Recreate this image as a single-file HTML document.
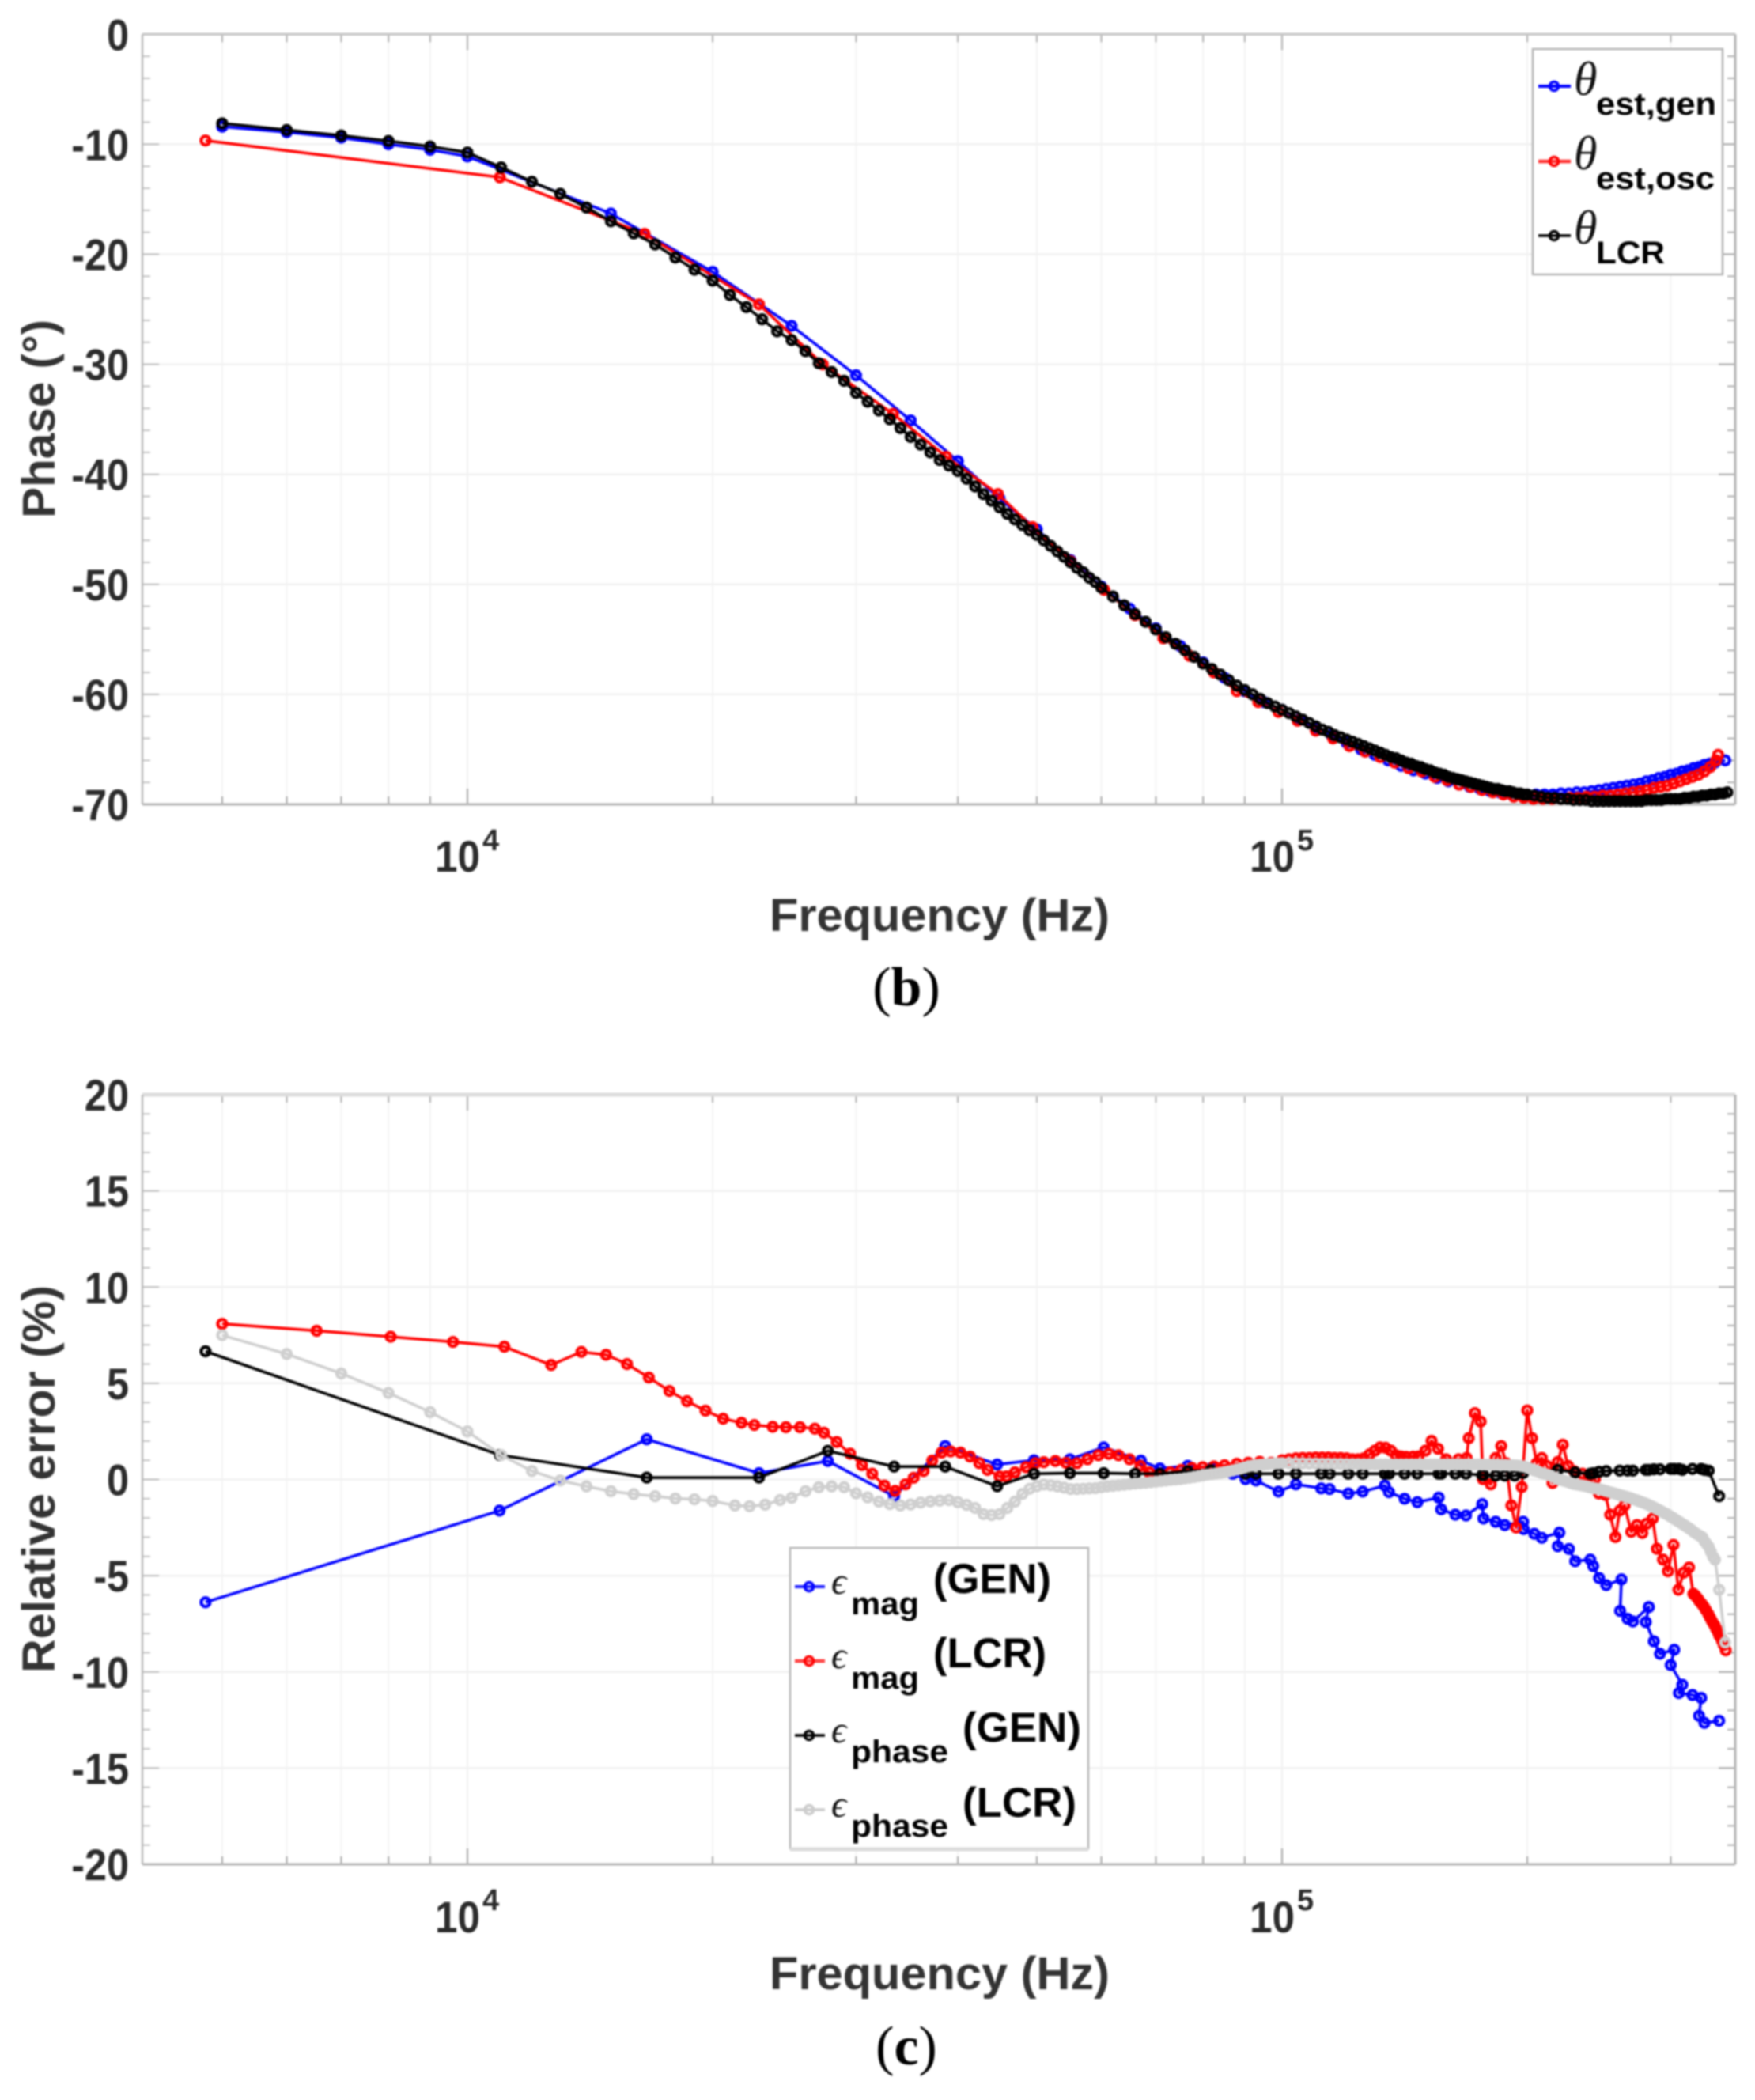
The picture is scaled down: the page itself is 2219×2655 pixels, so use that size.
<!DOCTYPE html>
<html lang="en">
<head>
<meta charset="utf-8">
<title>Phase and relative error versus frequency</title>
<style>
html,body{margin:0;padding:0;background:#fff;}
svg{display:block;filter:blur(1px);}
text{font-family:"Liberation Sans",sans-serif;}
.tick{font-weight:bold;font-size:56px;fill:#2b2b2b;}
.title{font-weight:bold;font-size:58px;fill:#333;}
.sub{font-weight:bold;font-size:40px;fill:#000;}
.paren{font-weight:bold;font-size:53px;fill:#000;}
.sym{font-family:"Liberation Serif","DejaVu Serif",serif;font-style:italic;fill:#111;}
.cap{font-family:"Liberation Serif",serif;font-size:70px;fill:#000;}
</style>
</head>
<body>
<svg id="figure" xmlns="http://www.w3.org/2000/svg" width="2219" height="2655" viewBox="0 0 2219 2655">
  <rect width="2219" height="2655" fill="#fff"/>

  <g id="panel-b">
    <g id="b-frame"></g>
    <g id="b-marks"></g>
    <g>
      <text class="tick" x="550" y="1102" textLength="57" lengthAdjust="spacingAndGlyphs">10</text>
      <text class="tick" x="610" y="1075" style="font-size:38px">4</text>
      <text class="tick" x="1580" y="1102" textLength="57" lengthAdjust="spacingAndGlyphs">10</text>
      <text class="tick" x="1640" y="1075" style="font-size:38px">5</text>
    </g>
    <text class="title" x="973" y="1177" textLength="430" lengthAdjust="spacingAndGlyphs">Frequency (Hz)</text>
    <text class="title" transform="translate(69 655) rotate(-90)" textLength="251" lengthAdjust="spacingAndGlyphs">Phase (°)</text>
    <g>
      <rect x="1938" y="62" width="240" height="285" fill="#fff" stroke="#b5b5b5" stroke-width="2.5"/>
      <g>
        <line x1="1945" x2="1986" y1="109" y2="109" stroke="#00f" stroke-width="4"/>
        <circle cx="1965" cy="109" r="5.5" fill="none" stroke="#00f" stroke-width="3.5"/>
        <text class="sym" x="1990" y="120" style="font-size:60px">θ</text>
        <text class="sub" x="2018" y="145" textLength="152" lengthAdjust="spacingAndGlyphs">est,gen</text>
      </g>
      <g>
        <line x1="1945" x2="1986" y1="204" y2="204" stroke="#f33" stroke-width="4.5"/>
        <circle cx="1965" cy="204" r="5.5" fill="none" stroke="#f00" stroke-width="3.5"/>
        <text class="sym" x="1990" y="214" style="font-size:60px">θ</text>
        <text class="sub" x="2018" y="239" textLength="150" lengthAdjust="spacingAndGlyphs">est,osc</text>
      </g>
      <g>
        <line x1="1945" x2="1986" y1="298" y2="298" stroke="#000" stroke-width="3.5"/>
        <circle cx="1965" cy="298" r="5.5" fill="none" stroke="#000" stroke-width="3.5"/>
        <text class="sym" x="1990" y="308" style="font-size:60px">θ</text>
        <text class="sub" x="2018" y="333" textLength="87" lengthAdjust="spacingAndGlyphs">LCR</text>
      </g>
    </g>
    <text class="cap" x="1146" y="1271" text-anchor="middle">(<tspan font-weight="bold">b</tspan>)</text>
  </g>

  <g id="panel-c">
    <g id="c-frame"></g>
    <g id="c-marks"></g>
    <g>
      <text class="tick" x="550" y="2443" textLength="57" lengthAdjust="spacingAndGlyphs">10</text>
      <text class="tick" x="610" y="2415" style="font-size:38px">4</text>
      <text class="tick" x="1580" y="2443" textLength="57" lengthAdjust="spacingAndGlyphs">10</text>
      <text class="tick" x="1640" y="2415" style="font-size:38px">5</text>
    </g>
    <text class="title" x="973" y="2515" textLength="430" lengthAdjust="spacingAndGlyphs">Frequency (Hz)</text>
    <text class="title" transform="translate(69 2115) rotate(-90)" textLength="490" lengthAdjust="spacingAndGlyphs">Relative error (%)</text>
    <g>
      <rect x="999" y="1957" width="377" height="380" fill="#fff" stroke="#b8b8b8" stroke-width="2.5"/>
      <line x1="999" x2="1376" y1="2338" y2="2338" stroke="#dcdcdc" stroke-width="5"/>
      <g>
        <line x1="1005" x2="1043" y1="2006" y2="2006" stroke="#22f" stroke-width="4"/>
        <circle cx="1023" cy="2006" r="5.5" fill="none" stroke="#00f" stroke-width="3.5"/>
        <text class="sym" x="1051" y="2015" style="font-size:48px">ϵ</text>
        <text class="sub" x="1076" y="2041" textLength="86" lengthAdjust="spacingAndGlyphs">mag</text>
        <text class="paren" x="1180" y="2014" textLength="149" lengthAdjust="spacingAndGlyphs">(GEN)</text>
      </g>
      <g>
        <line x1="1005" x2="1043" y1="2100" y2="2100" stroke="#f44" stroke-width="4.5"/>
        <circle cx="1023" cy="2100" r="5.5" fill="none" stroke="#f00" stroke-width="3.5"/>
        <text class="sym" x="1051" y="2109" style="font-size:48px">ϵ</text>
        <text class="sub" x="1076" y="2135" textLength="86" lengthAdjust="spacingAndGlyphs">mag</text>
        <text class="paren" x="1180" y="2108" textLength="143" lengthAdjust="spacingAndGlyphs">(LCR)</text>
      </g>
      <g>
        <line x1="1005" x2="1043" y1="2194" y2="2194" stroke="#000" stroke-width="3.5"/>
        <circle cx="1023" cy="2194" r="5.5" fill="none" stroke="#000" stroke-width="3.5"/>
        <text class="sym" x="1051" y="2203" style="font-size:48px">ϵ</text>
        <text class="sub" x="1076" y="2228" textLength="123" lengthAdjust="spacingAndGlyphs">phase</text>
        <text class="paren" x="1217" y="2202" textLength="150" lengthAdjust="spacingAndGlyphs">(GEN)</text>
      </g>
      <g>
        <line x1="1005" x2="1043" y1="2288" y2="2288" stroke="#ccc" stroke-width="3.5"/>
        <circle cx="1023" cy="2288" r="5.5" fill="none" stroke="#ccc" stroke-width="3.5"/>
        <text class="sym" x="1051" y="2297" style="font-size:48px">ϵ</text>
        <text class="sub" x="1076" y="2322" textLength="123" lengthAdjust="spacingAndGlyphs">phase</text>
        <text class="paren" x="1217" y="2297" textLength="144" lengthAdjust="spacingAndGlyphs">(LCR)</text>
      </g>
    </g>
    <text class="cap" x="1146" y="2610" text-anchor="middle">(<tspan font-weight="bold">c</tspan>)</text>
  </g>
</svg>

<script>
// ---- Chart (b): phase, frequencies in kHz, values in degrees ----
const bYTickLabels = [0, -10, -20, -30, -40, -50, -60, -70];
const bThetaGenFreq = [5,6,7,8,9,10,15,20,25,30,
  35,40,45,50,55,60,65,70,75,80,
  85,90,95,100,105,110,115,120,125,130,
  135,140,145,150,155,160,165,170,175,180,
  185,190,195,200,205,210,215,220,225,230,
  235,240,245,250,255,260,265,270,275,280,
  285,290,295,300,305,310,315,320,325,330,
  335,340,350];
const bThetaGenVal = [-8.4,-8.9,-9.4,-10,-10.5,-11.1,-16.3,-21.6,-26.5,-31,
  -35.1,-38.8,-42.2,-45,-47.8,-50.2,-52.2,-54,-55.6,-57.1,
  -58.5,-59.7,-60.7,-61.4,-62.3,-63,-63.7,-64.4,-65,-65.5,
  -66,-66.5,-66.9,-67.2,-67.6,-67.9,-68.2,-68.4,-68.6,-68.8,
  -68.9,-69,-69.1,-69.1,-69.1,-69.1,-69.1,-69,-69,-68.9,
  -68.9,-68.8,-68.7,-68.6,-68.5,-68.4,-68.3,-68.2,-68.1,-67.9,
  -67.8,-67.6,-67.5,-67.3,-67.2,-67,-66.9,-66.7,-66.6,-66.4,
  -66.3,-66.2,-66];

const bThetaOscFreq = [4.77,10.96,16.5,22.8,27.3,33.3,38.7,44.8,49.4,55,
  60.5,66,71.5,77,82.5,88,93.5,99,104.5,110,
  115.5,121,126.5,132,137.5,143,148.5,154,159.5,165,
  170.5,176,181.5,187,192.5,198,203.5,209,214.5,220,
  225.5,231,236.5,242,247.5,253,258.5,264,269.5,275,
  280.5,286,291.5,297,302.5,308,313.5,319,324.5,330,
  335.5,341,343];
const bThetaOscVal = [-9.66,-13,-18.15,-24.55,-30,-34.5,-38.4,-41.8,-44.8,-47.9,
  -50.5,-52.8,-54.9,-56.5,-58,-59.7,-60.7,-61.6,-62.4,-63.3,
  -64,-64.7,-65.2,-65.7,-66.2,-66.7,-67,-67.5,-67.8,-68.2,
  -68.4,-68.7,-68.9,-69.1,-69.3,-69.4,-69.5,-69.5,-69.5,-69.5,
  -69.4,-69.4,-69.3,-69.3,-69.2,-69.2,-69.1,-69,-68.9,-68.8,
  -68.7,-68.5,-68.4,-68.3,-68.1,-67.9,-67.7,-67.5,-67.3,-67,
  -66.6,-66,-65.5];

const bThetaLcrFreq = [5,6,7,8,9,10,11,12,13,14,
  15,16,17,18,19,20,21,22,23,24,
  25,26,27,28,29,30,31,32,33,34,
  35,36,37,38,39,40,41,42,43,44,
  45,46,47,48,49,50,51,52,53,54,
  55,56,57,58,59,60,
  62,64,66,68,70,72,74,76,78,80,
  82,84,86,88,90,92,94,96,98,100,
  102,104,106,108,110,112,114,116,118,120,
  122,124,126,128,130,132,134,136,138,140,
  142,144,146,148,150,152,154,156,158,160,
  162,164,166,168,170,172,174,176,178,180,
  182,184,186,188,190,192,194,196,198,200,
  204,208,212,216,220,224,228,232,236,240,
  244,248,252,256,260,264,268,272,276,280,
  284,288,292,296,300,304,308,312,316,320,
  324,328,332,336,340,344,348,352];
const bThetaLcrVal = [-8.1,-8.7,-9.2,-9.7,-10.2,-10.75,-12.1,-13.4,-14.5,-15.75,
  -17,-18.1,-19.1,-20.3,-21.4,-22.4,-23.7,-24.8,-25.9,-27,
  -27.8,-28.8,-29.9,-30.7,-31.5,-32.6,-33.4,-34.2,-35,-35.8,
  -36.6,-37.3,-38,-38.7,-39.2,-39.7,-40.4,-41.1,-41.8,-42.4,
  -43,-43.6,-44.1,-44.6,-45.1,-45.5,-46,-46.5,-47,-47.5,
  -48,-48.5,-48.9,-49.4,-49.8,-50.3,
  -51.1,-51.9,-52.7,-53.4,-54.1,-54.8,-55.4,-56,-56.6,-57.2,
  -57.7,-58.2,-58.7,-59.2,-59.6,-60,-60.4,-60.8,-61.1,-61.4,
  -61.7,-62,-62.3,-62.6,-62.9,-63.2,-63.4,-63.7,-63.9,-64.1,
  -64.3,-64.5,-64.7,-64.9,-65.1,-65.3,-65.5,-65.7,-65.8,-66,
  -66.2,-66.3,-66.5,-66.6,-66.8,-66.9,-67.1,-67.2,-67.3,-67.5,
  -67.6,-67.7,-67.8,-67.9,-68,-68.1,-68.2,-68.3,-68.4,-68.5,
  -68.6,-68.6,-68.7,-68.8,-68.8,-68.9,-69,-69,-69.1,-69.1,
  -69.2,-69.3,-69.4,-69.4,-69.5,-69.5,-69.6,-69.6,-69.6,-69.7,
  -69.7,-69.7,-69.7,-69.7,-69.7,-69.7,-69.7,-69.7,-69.7,-69.6,
  -69.6,-69.6,-69.6,-69.5,-69.5,-69.5,-69.5,-69.4,-69.4,-69.3,
  -69.3,-69.2,-69.2,-69.1,-69.1,-69,-69,-68.9];

// ---- Chart (c): relative error, frequencies in kHz, values in percent ----
const cYTickLabels = [20, 15, 10, 5, 0, -5, -10, -15, -20];
const cMagGenFreq = [4.77,10.95,16.6,22.8,27.7,33.4,38.6,44.7,49.6,54.9,
  60.4,67.1,70.8,76.6,82,87,90.2,92.9,99,104,
  111.7,114.4,120.6,125.6,133.7,135.3,141.4,146.6,155.7,156.8,
  163.2,168.2,176.1,176.7,182.9,187.7,197.7,198,204,208.4,
  219,218,225,229,239,241,245,250,261,260,
  265.5,269.6,282,279.6,286,291,303,300,310,307,
  319,327,325,330,344];
const cMagGenVal = [-6.38,-1.62,2.09,0.33,0.96,-0.87,1.74,0.78,1,1.05,
  1.67,0.98,0.57,0.71,0.6,0.3,0.02,-0.05,-0.63,-0.25,
  -0.46,-0.5,-0.73,-0.63,-0.32,-0.66,-1,-1.18,-0.94,-1.55,
  -1.83,-1.87,-1.28,-2.03,-2.2,-2.37,-2.2,-2.58,-2.82,-3.03,
  -2.76,-3.47,-3.61,-4.25,-4.16,-4.5,-5.12,-5.49,-5.19,-6.83,
  -7.24,-7.38,-6.63,-7.41,-8.41,-9.06,-8.85,-9.64,-10.67,-11.1,
  -11.2,-11.35,-12.28,-12.65,-12.54];

const cMagLcrFreq = [5,6.53,8.05,9.6,11.1,12.67,13.8,14.8,15.7,16.7,
  17.7,18.6,19.6,20.6,21.7,22.5,23.7,24.6,25.6,26.7,
  27.4,28.4,29.5,30.5,31.4,32.5,33.5,34.5,35.3,36.3,
  37.2,38.2,39.2,40.3,41.4,42.5,43.5,45,45.9,47,
  48.5,49.8,51,52.7,54.3,56,57.7,59.5,61.3,63,
  65,67,68.7,70.8,72.9,75.2,77.5,79.9,82.5,85,
  88,90.9,93.9,97,100,102,104,106,108,110,
  112,114,116,118,120,122,124,126,128,130,
  131.9,134,136,138,140,142,144.8,147,150,152.6,
  155.4,159,164.7,168.5,169.5,172.5,175.3,176.4,180.4,182.9,
  185.8,188.4,191.2,193.8,196.9,200,202.7,205.4,208.4,211.4,
  214.8,218,221.1,224.4,228.2,233.8,237.9,242.1,244.9,249.4,
  252.8,256.6,259.7,263.3,268.3,272.7,276.9,280.2,285.1,288.5,
  293.5,297.7,302.3,306.6,311.2,316,319.8,321,322.5,324,
  325,326.5,328,329.9,331.5,333.7,335,336.5,338,339.8,
  341,342.5,344,345.8,347,348.5,350.5];
const cMagLcrVal = [8.09,7.73,7.42,7.15,6.9,5.95,6.63,6.48,6,5.3,
  4.6,4.07,3.58,3.16,2.95,2.83,2.74,2.72,2.72,2.64,
  2.43,1.95,1.34,0.75,0.3,-0.32,-0.59,-0.25,0.09,0.44,
  0.98,1.4,1.46,1.4,1.19,0.85,0.5,0.16,0.16,0.37,
  0.64,0.85,0.9,0.96,0.87,0.85,1.05,1.26,1.33,1.26,
  1.05,0.71,0.37,0.23,0.37,0.5,0.6,0.64,0.68,0.74,
  0.82,0.87,0.92,0.87,1,1.05,1.1,1.12,1.12,1.14,
  1.14,1.14,1.12,1.12,1.1,1.05,1.05,1.1,1.3,1.5,
  1.67,1.65,1.5,1.26,1.2,1.18,1.19,1.2,1.5,2.01,
  1.6,1.05,1.05,1.12,2.15,3.45,3.01,0.02,-0.25,1.12,
  1.74,0.85,-1.35,-2.5,-0.39,3.59,2.15,0.85,1.12,0.71,
  -0.18,0.91,1.81,0.71,0.44,0.3,0.16,0.02,-0.73,-0.8,
  -1.83,-2.99,-1.62,-1.35,-2.72,-2.37,-2.78,-2.3,-2.03,-3.6,
  -4.16,-4.77,-3.4,-5.73,-4.84,-4.57,-5.94,-6,-6.1,-6.2,
  -6.3,-6.4,-6.5,-6.65,-6.8,-7,-7.15,-7.3,-7.45,-7.6,
  -7.75,-7.9,-8.1,-8.25,-8.4,-8.6,-8.88];

const cPhaseGenFreq = [4.77,10.96,16.6,22.8,27.7,33.4,38.6,44.7,49.6,54.9,
  60.4,66,70.8,76.6,81.8,90.2,92.9,99,104,111.7,
  114.4,120.6,125.6,133.7,135.3,141.4,146.6,155.7,156.8,163.2,
  168.2,176.1,176.7,182.9,187.7,193,197.7,218,229,239,
  241,245,250,259.7,265.5,269.6,279.6,282,286,291,
  300,303,307,310,319,327,330,334,344];
const cPhaseGenVal = [6.66,1.27,0.1,0.1,1.49,0.67,0.67,-0.35,0.3,0.33,
  0.33,0.3,0.3,0.43,0.48,0.3,0.3,0.3,0.3,0.3,
  0.3,0.3,0.3,0.3,0.3,0.3,0.3,0.3,0.3,0.3,
  0.3,0.23,0.23,0.2,0.2,0.2,0.34,0.5,0.37,0.3,
  0.33,0.4,0.44,0.46,0.46,0.46,0.5,0.5,0.53,0.53,
  0.55,0.55,0.55,0.5,0.55,0.55,0.5,0.46,-0.87];

const cPhaseLcrFreq = [5,6,7,8,9,10,11,12,13,14,
  15,16,17,18,19,20,21.3,22.2,23.2,24.2,
  25,26,27,28,29,30,31,32,33,34,
  35,36,37,38,39,40,41,42,43,44,
  45,46,47,48,49,50,51,52,53,54,
  55,56,57,58,59,60,61,62,63,64,
  65,66,67,68,69,70,71,72,73,74,
  75,76,77,78,79,80,81,82,83,84,
  85,86,87,88,89,90,91,92,93,94,
  95,96,97,98,99,100,
  102,104,106,108,110,112,114,116,118,120,
  122,124,126,128,130,132,134,136,138,140,
  142,144,146,148,150,152,154,156,158,160,
  162,164,166,168,170,172,174,176,178,180,
  182,184,186,188,190,192,194,196,198,200,
  202,204,206,208,210,212,214,216,218,220,
  222,224,226,228,230,232,234,236,238,240,
  242,244,246,248,250,252,254,256,258,260,
  262,264,266,268,270,272,274,276,278,280,
  282,284,286,288,290,292,294,296,298,300,
  302,304,306,308,310,312,314,316,318,320,
  322,324,326,328,330,332,334,336,338,340,
  344,350];
const cPhaseLcrVal = [7.5,6.52,5.51,4.5,3.5,2.5,1.27,0.44,-0.05,-0.36,
  -0.61,-0.76,-0.87,-0.99,-1.03,-1.12,-1.35,-1.39,-1.31,-1.07,
  -0.95,-0.61,-0.4,-0.36,-0.4,-0.72,-0.93,-1.15,-1.28,-1.35,
  -1.3,-1.2,-1.14,-1.1,-1.07,-1.18,-1.32,-1.48,-1.8,-1.85,
  -1.8,-1.48,-1.15,-0.75,-0.48,-0.35,-0.26,-0.3,-0.36,-0.42,
  -0.5,-0.5,-0.48,-0.46,-0.45,-0.4,-0.36,-0.33,-0.3,-0.27,
  -0.24,-0.21,-0.19,-0.17,-0.14,-0.11,-0.08,-0.05,-0.02,0,
  0.02,0.06,0.09,0.13,0.17,0.21,0.25,0.28,0.31,0.34,
  0.38,0.42,0.47,0.52,0.57,0.63,0.69,0.72,0.75,0.77,
  0.78,0.8,0.82,0.83,0.84,0.85,
  0.85,0.84,0.84,0.83,0.83,0.82,0.82,0.81,0.81,0.8,
  0.8,0.8,0.79,0.79,0.79,0.78,0.78,0.78,0.78,0.78,
  0.78,0.78,0.78,0.78,0.78,0.78,0.78,0.78,0.78,0.78,
  0.78,0.78,0.78,0.78,0.78,0.78,0.78,0.77,0.77,0.77,
  0.76,0.76,0.75,0.75,0.74,0.74,0.73,0.71,0.68,0.62,
  0.55,0.47,0.42,0.35,0.3,0.25,0.18,0.1,0.02,-0.02,
  -0.07,-0.12,-0.18,-0.23,-0.26,-0.29,-0.32,-0.35,-0.39,-0.43,
  -0.46,-0.48,-0.52,-0.56,-0.6,-0.65,-0.69,-0.73,-0.77,-0.81,
  -0.85,-0.89,-0.93,-0.97,-1.03,-1.07,-1.12,-1.17,-1.22,-1.27,
  -1.33,-1.39,-1.45,-1.52,-1.58,-1.65,-1.72,-1.78,-1.85,-1.93,
  -2,-2.08,-2.16,-2.23,-2.31,-2.38,-2.46,-2.54,-2.62,-2.72,
  -2.8,-2.87,-2.94,-3,-3.2,-3.35,-3.5,-3.75,-4,-4.16,
  -5.73,-8.47];

// ---- Axis geometry and functions ----
const SVG_NS = 'http://www.w3.org/2000/svg';
const AXIS_LEFT = 180, AXIS_RIGHT = 2194, PX_1E4 = 591, PX_PER_DECADE = 1030;
function xScale(kHz) {
  return PX_1E4 + (Math.log10(kHz) - 1) * PX_PER_DECADE;
}
function makeYScale(top, bottom, vTop, vBottom) {
  return function (v) { return top + (v - vTop) / (vBottom - vTop) * (bottom - top); };
}
function addLine(parent, x1, y1, x2, y2, color, width) {
  const el = document.createElementNS(SVG_NS, 'line');
  el.setAttribute('x1', x1);
  el.setAttribute('y1', y1);
  el.setAttribute('x2', x2);
  el.setAttribute('y2', y2);
  el.setAttribute('stroke', color);
  el.setAttribute('stroke-width', width);
  
  
  parent.appendChild(el);
  return el;
}
function drawFrame(frameId, top, bottom, yScale, yTicks, minorPerMajor, topColor, topWidth) {
  const frame = document.getElementById(frameId);
  const xMinor = [5,6,7,8,9,20,30,40,50,60,70,80,90,200,300];
  const xMajor = [10,100];
  xMinor.forEach(function (f) {
    const x = xScale(f);
    addLine(frame, x, top, x, bottom, '#f4f4f4', 2);
    addLine(frame, x, top, x, top + 10, '#b0b0b0', 2);
    addLine(frame, x, bottom, x, bottom - 10, '#a8a8a8', 2);
  });
  xMajor.forEach(function (f) {
    const x = xScale(f);
    addLine(frame, x, top, x, bottom, '#f0f0f0', 2);
    addLine(frame, x, top, x, top + 20, '#b0b0b0', 2);
    addLine(frame, x, bottom, x, bottom - 20, '#a8a8a8', 2);
  });
  yTicks.forEach(function (v, i) {
    const y = yScale(v);
    if (i > 0 && i < yTicks.length - 1) {
      addLine(frame, AXIS_LEFT, y, AXIS_RIGHT, y, '#f1f1f1', 2.5);
    }
    addLine(frame, AXIS_LEFT, y, AXIS_LEFT + 21, y, '#bdbdbd', 2);
    addLine(frame, AXIS_RIGHT, y, AXIS_RIGHT - 21, y, '#a8a8a8', 2);
    if (i < yTicks.length - 1) {
      const next = yTicks[i + 1];
      for (let k = 1; k < minorPerMajor; k++) {
        const ym = yScale(v + (next - v) * k / minorPerMajor);
        addLine(frame, AXIS_LEFT, ym, AXIS_LEFT + 10, ym, '#c4c4c4', 2);
        addLine(frame, AXIS_RIGHT, ym, AXIS_RIGHT - 10, ym, '#b0b0b0', 2);
      }
    }
    const label = document.createElementNS(SVG_NS, 'text');
    label.setAttribute('class', 'tick');
    label.setAttribute('x', 163);
    label.setAttribute('y', y + 20);
    label.setAttribute('text-anchor', 'end');
    
    
    label.textContent = String(v);
    frame.appendChild(label);
    label.setAttribute('textLength', (label.getComputedTextLength() * 0.9).toFixed(1));
    label.setAttribute('lengthAdjust', 'spacingAndGlyphs');
  });
  addLine(frame, AXIS_LEFT, top, AXIS_RIGHT, top, topColor, topWidth);
  addLine(frame, AXIS_LEFT, bottom, AXIS_RIGHT, bottom, '#b4b4b4', 3);
  addLine(frame, AXIS_LEFT, top, AXIS_LEFT, bottom, '#bcbcbc', 2.5);
  addLine(frame, AXIS_RIGHT, top, AXIS_RIGHT, bottom, '#b4b4b4', 3);
}
function drawSeries(marksId, yScale, freq, val, color, seriesName) {
  const marks = document.getElementById(marksId);
  const group = document.createElementNS(SVG_NS, 'g');
  
  
  const n = Math.min(freq.length, val.length);
  const pts = [];
  for (let i = 0; i < n; i++) {
    pts.push(xScale(freq[i]).toFixed(2) + ',' + yScale(val[i]).toFixed(2));
  }
  const line = document.createElementNS(SVG_NS, 'polyline');
  line.setAttribute('points', pts.join(' '));
  line.setAttribute('fill', 'none');
  line.setAttribute('stroke', color);
  line.setAttribute('stroke-width', 3.6);
  line.setAttribute('stroke-linejoin', 'round');
  
  
  group.appendChild(line);
  for (let i = 0; i < n; i++) {
    const dot = document.createElementNS(SVG_NS, 'circle');
    dot.setAttribute('cx', xScale(freq[i]).toFixed(2));
    dot.setAttribute('cy', yScale(val[i]).toFixed(2));
    dot.setAttribute('r', 5.5);
    dot.setAttribute('fill', 'none');
    dot.setAttribute('stroke', color);
    dot.setAttribute('stroke-width', 4.2);
    
    
    group.appendChild(dot);
  }
  marks.appendChild(group);
}

const bY = makeYScale(43.3, 1017, 0, -70);
const cY = makeYScale(1384, 2357, 20, -20);
drawFrame('b-frame', 43.3, 1017, bY, bYTickLabels, 5, '#c4c4c4', 3);
drawFrame('c-frame', 1384, 2357, cY, cYTickLabels, 5, '#dcdcdc', 5);
drawSeries('b-marks', bY, bThetaGenFreq, bThetaGenVal, '#0000ff', 'theta-est-gen');
drawSeries('b-marks', bY, bThetaOscFreq, bThetaOscVal, '#ff0000', 'theta-est-osc');
drawSeries('b-marks', bY, bThetaLcrFreq, bThetaLcrVal, '#000000', 'theta-lcr');
drawSeries('c-marks', cY, cMagGenFreq, cMagGenVal, '#0000ff', 'epsilon-mag-gen');
drawSeries('c-marks', cY, cMagLcrFreq, cMagLcrVal, '#ff0000', 'epsilon-mag-lcr');
drawSeries('c-marks', cY, cPhaseGenFreq, cPhaseGenVal, '#000000', 'epsilon-phase-gen');
drawSeries('c-marks', cY, cPhaseLcrFreq, cPhaseLcrVal, '#cfcfcf', 'epsilon-phase-lcr');
</script>
</body>
</html>
